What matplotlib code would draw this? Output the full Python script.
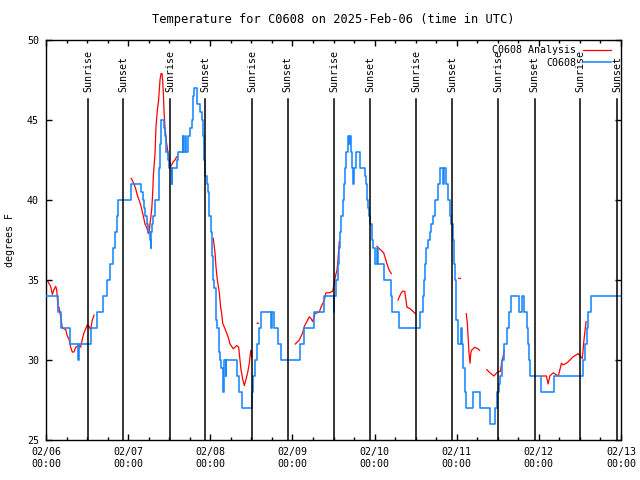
import numpy as np
import matplotlib
matplotlib.use('Agg')
import matplotlib.pyplot as plt
import matplotlib.transforms as mtransforms

plt.rcParams['font.family'] = 'DejaVu Sans Mono'
plt.rcParams['font.size'] = 7.2

title = 'Temperature for C0608 on 2025-Feb-06 (time in UTC)'
day_labels = ['02/06', '02/07', '02/08', '02/09', '02/10', '02/11', '02/12', '02/13']

# hours since 2025-02-06 00:00 UTC
sunrise_hours = [12.27, 36.23, 60.19, 84.15, 108.11, 132.07, 156.03]
sunset_hours = [22.50, 46.55, 70.60, 94.65, 118.70, 142.75, 166.80]

# observed station temperature (step line)
obs_hours = [0.0, 3.5, 4.5, 7.0, 9.3, 9.6, 13.1, 15.0, 16.6, 17.8, 18.7, 19.6, 20.2, 20.7, 21.0,
             24.9, 27.7, 28.4, 28.7, 29.0, 29.4, 29.9, 30.4, 30.6, 30.8, 31.0, 31.3, 31.8, 32.9,
             33.2, 33.5, 34.5, 34.8, 35.1, 35.7, 36.0, 36.7, 36.9, 38.4, 38.7, 39.9, 40.1, 40.6,
             41.0, 41.4, 42.1, 42.6, 43.0, 43.3, 44.0, 45.0, 45.5, 46.0, 46.3, 46.5, 47.0, 47.4,
             47.7, 48.1, 48.4, 48.7, 49.1, 49.7, 50.0, 50.5, 50.8, 51.2, 51.6, 51.9, 52.5, 52.7,
             55.9, 56.3, 57.2, 60.2, 60.6, 61.1, 61.6, 62.1, 62.8, 65.7, 66.1, 66.6, 67.7, 68.7,
             74.3, 75.4, 78.4, 81.3, 84.0, 84.2, 84.8, 85.3, 85.6, 85.9, 86.3, 86.7, 87.0, 87.3,
             87.7, 88.1, 88.5, 88.7, 89.0, 89.3, 89.8, 90.1, 90.6, 91.7, 93.1, 93.5, 93.8, 94.1,
             94.3, 94.7, 95.2, 95.6, 96.2, 96.6, 97.0, 98.8, 100.9, 101.1, 103.0, 109.4, 110.1,
             110.4, 110.8, 111.1, 111.6, 112.1, 112.6, 113.1, 113.7, 114.6, 115.2, 115.9, 116.2,
             117.0, 117.6, 118.0, 118.4, 118.9, 119.2, 119.4, 119.9, 120.4, 121.3, 121.6, 121.9,
             122.4, 122.8, 124.8, 126.8, 129.6, 131.3, 131.8, 132.4, 132.6, 133.1, 133.8, 134.6,
             135.3, 136.0, 138.3, 139.0, 139.7, 140.4, 140.9, 141.2, 141.4, 144.5, 148.4, 157.0,
             157.4, 158.0, 158.4, 159.2, 168.0]
obs_temps = [34, 33, 32, 31, 30, 31, 32, 33, 34, 35, 36, 37, 38, 39, 40,
             41, 40.5, 40, 39.5, 39, 38.5, 38, 37.5, 37, 38, 38.5, 39, 40, 42,
             43.5, 45, 44.5, 44, 43, 42.5, 42, 41, 42, 42.5, 43, 44, 43, 44,
             43, 44, 44.5, 45, 46.5, 47, 46, 45.5, 45, 44, 42.5, 41.5, 41, 40.5,
             39, 38, 36.5, 35, 34.5, 32.5, 32, 30.5, 30, 29.5, 28, 30, 29, 30,
             29, 28, 27, 28, 29, 30, 31, 32, 33, 32, 33, 32, 31, 30,
             31, 32, 33, 34, 33, 34, 35, 36, 37, 38, 39, 40, 41, 42,
             43, 44, 43.5, 44, 43, 42, 41, 42, 43, 42, 41.5, 41, 40, 39.5,
             39, 38.5, 37.5, 37, 36, 37, 36, 35, 34, 33, 32, 33, 34,
             35, 36, 37, 37.5, 38, 38.5, 39, 40, 41, 42, 41, 42,
             41, 40, 39, 38.5, 37.5, 36, 35, 32.5, 31, 32, 31, 29.5,
             28, 27, 28, 27, 26, 27, 28, 28.5, 29, 30, 31, 32,
             33, 34, 33, 34, 33, 32, 31, 30, 29, 28, 29, 30,
             31, 32, 33, 34, 34]

# analysis temperature, nan marks gaps
nan = np.nan
ana_hours = [0.58, 1.36, 1.85, 2.34, 2.83, 3.12, 3.51, 3.80, 4.29, 4.77, 5.75, 6.23, 6.72, 7.21,
             7.69, 8.18, 8.67, 9.64, 10.13, 10.61, 11.10, 12.08, 12.56, 13.05, 13.54, 14.02, nan,
             24.93, 25.71, 26.2, 26.68, 27.17, 27.66, 28.43, 28.92, 29.41, 29.9, 30.18, 30.39,
             30.88, 31.17, 31.36, 31.85, 32.14, 32.53, 32.92, 33.31, 33.6, 33.89, 34.09, 34.28,
             34.48, 34.77, 35.26, 35.55, 36.03, 36.42, 36.72, 37.2, 37.69, 38.18, nan,
             48.88, 49.38, 49.67, 50.06, 50.64, 51.03, 51.33, 51.62, 52.4, 53.28, 53.76, 54.73,
             55.22, 55.71, 56.29, 56.49, 56.97, 57.46, 57.95, 58.43, 58.92, 59.41, 59.7, 59.9,
             60.1, nan, 61.7, 62.1, nan,
             72.85, 74.0, 75.0, 75.47, 76.45, 76.93, 77.42, 77.91, 78.59, 79.86, 80.35, 81.32,
             81.8, 82.78, 83.75, 84.24, 84.35, 84.73, 85.02, 85.31, 85.51, 85.7, nan,
             96.71, 97.67, 98.66, 99.13, 99.63, 100.3, 100.89, nan,
             102.84, 103.33, 103.81, 104.2, 104.79, 105.18, 105.47, 106.44, 107.43, 107.9, nan,
             120.6, 121.1, nan,
             122.8, 123.1, 123.3, 123.6, 123.9, 124.1, 124.3, 124.85, 125.25, 126.2, 126.7, nan,
             128.76, 129.7, 130.9, 131.7, 132.1, 132.8, 133.1, 133.6, 133.9, nan,
             144.9, 146.2, 146.7, 147.2, 148.2, 149.7, 150.6, 151.1, 152.1, 153.1, 154.0, 155.5,
             156.2, 156.7, 157.2, 157.8]
ana_temps = [34.9, 34.6, 34.1, 34.4, 34.6, 34.4, 33.3, 33.3, 32.7, 32.0, 31.9, 31.5, 31.3, 30.8,
             30.5, 30.5, 30.8, 30.9, 30.8, 31.3, 31.7, 32.2, 32.1, 31.9, 32.5, 32.8, nan,
             41.35, 41.0, 40.7, 40.3, 40.0, 39.7, 39.0, 38.5, 38.3, 37.9, 38.1, 38.5,
             39.4, 40.4, 41.5, 42.9, 44.6, 45.6, 46.3, 47.5, 47.9, 47.9, 47.5, 46.7,
             45.6, 44.5, 43.5, 43.1, 42.5, 42.1, 42.2, 42.4, 42.5, 42.7, nan,
             37.6, 36.7, 35.8, 35.0, 34.2, 33.3, 32.9, 32.3, 31.9, 31.4, 31.0, 30.7,
             30.8, 30.9, 30.8, 30.4, 29.4, 28.8, 28.4, 28.8, 29.2, 29.8, 30.4, 30.6,
             30.2, nan, 32.3, 32.3, nan,
             31.0, 31.25, 31.7, 32.1, 32.5, 32.7, 32.6, 32.4, 32.9, 33.0, 33.3, 33.75,
             34.2, 34.2, 34.3, 34.8, 35.0, 35.4, 35.6, 36.25, 36.9, 37.4, nan,
             37.1, 36.9, 36.7, 36.35, 36.0, 35.6, 35.4, nan,
             33.75, 34.0, 34.2, 34.3, 34.3, 33.75, 33.3, 33.2, 33.0, 32.9, nan,
             35.1, 35.1, nan,
             32.9, 32.3, 31.5, 30.4, 29.8, 30.4, 30.6, 30.7, 30.8, 30.7, 30.6, nan,
             29.4, 29.2, 29.0, 29.2, 29.25, 29.3, 29.8, 30.25, 30.6, nan,
             29.0, 29.0, 28.5, 29.0, 29.2, 29.0, 29.8, 29.7, 29.8, 30.0, 30.2, 30.4,
             30.2, 30.1, 31.3, 32.4]

fig = plt.figure(figsize=(6.4, 4.8), dpi=100)
ax = fig.add_axes([46/640, 40/480, 575/640, 400/480])

blue = '#1a86ff'
ax.plot(ana_hours, ana_temps, color='red', lw=0.9, zorder=2)
ax.step(obs_hours, obs_temps, where='post', color=blue, lw=1.15, zorder=3)

trans = mtransforms.blended_transform_factory(ax.transData, ax.transAxes)
for t in sunrise_hours:
    ax.axvline(t, ymin=0, ymax=0.8525, color='black', lw=1.1, zorder=4)
    ax.text(t, 0.87, 'Sunrise', transform=trans, rotation=90, ha='center', va='bottom')
for t in sunset_hours:
    ax.axvline(t, ymin=0, ymax=0.8525, color='black', lw=1.1, zorder=4)
    ax.text(t, 0.87, 'Sunset', transform=trans, rotation=90, ha='center', va='bottom')

ax.set_xlim(0, 168)
ax.set_ylim(25, 50)
ax.set_xticks(np.arange(0, 169, 24))
ax.set_xticklabels([d + '\n00:00' for d in day_labels])
ax.set_xticks(np.arange(0, 169, 6), minor=True)
ax.set_yticks(np.arange(25, 51, 5))
ax.tick_params(direction='in', top=True, right=True, length=4, width=1.0, pad=5)
ax.tick_params(which='minor', direction='in', top=True, bottom=True, length=2.5, width=1.0)
for s in ax.spines.values():
    s.set_linewidth(1.0)

ax.set_ylabel('degrees F', labelpad=9)
ax.set_title(title, pad=12)

h_red, = ax.plot([], [], color='red', lw=0.9)
h_blue, = ax.plot([], [], color=blue, lw=1.15)
ax.legend([h_red, h_blue], ['C0608 Analysis', 'C0608'], loc='upper right',
          bbox_to_anchor=(611/640, 1 - 45/480), bbox_transform=fig.transFigure,
          frameon=False, markerfirst=False, handlelength=2.8, handletextpad=0.7,
          labelspacing=0.25, borderpad=0, borderaxespad=0)

fig.savefig('out.png', dpi=100)
